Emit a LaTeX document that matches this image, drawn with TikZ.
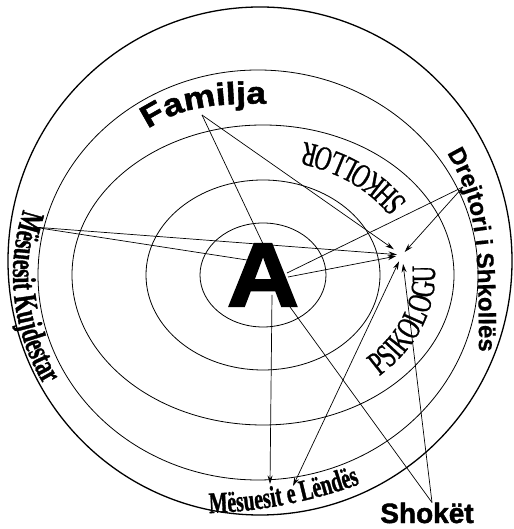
\documentclass[tikz,border=0pt]{standalone}
\usepackage{fontspec}
\usetikzlibrary{arrows.meta,calc,decorations.text}
\newfontfamily\serifc[FakeStretch=0.67,FakeBold=0.8]{Liberation Serif}
\newfontfamily\serifcb[FakeStretch=0.66,FakeBold=1]{Liberation Serif Bold}
\newfontfamily\famfont[FakeStretch=1.15,FakeBold=1.8]{Liberation Sans Bold}
\newfontfamily\heavysans[FakeBold=1.5]{Liberation Sans Bold}
\newfontfamily\boldsans[FakeBold=0.6]{Liberation Sans Bold}
\newfontfamily\bigAfont[FakeStretch=1.1,FakeBold=2.5]{Liberation Sans Bold}
\tikzset{
  ring/.style={line width=0.8pt},
  outerring/.style={line width=1.3pt},
  ln/.style={line width=0.7pt},
  arr/.style={ln,-{Stealth[length=8.5pt,width=5pt]}},
  dbl/.style={ln,{Stealth[length=8.5pt,width=5pt]}-{Stealth[length=8.5pt,width=5pt]}},
  curvetext/.style={decorate,decoration={text along path,text align=center,text={#1}}},
  lefttext/.style={decorate,decoration={text along path,text={#1}}}
}
\begin{document}
\begin{tikzpicture}[x=1pt,y=1pt]
\path[use as bounding box] (0,0) rectangle (513,529);
\coordinate (C) at (263,254);
% rings
\draw[outerring] (260,268) ellipse [x radius=252, y radius=254];
\draw[ring] (258,254) ellipse [x radius=220, y radius=205];
\draw[ring] (C) ellipse [x radius=191, y radius=150];
\draw[ring] (C) ellipse [x radius=117, y radius=95];
\draw[ring] (C) ellipse [x radius=63, y radius=52];
% curved labels
\path[curvetext={|\serifc\fontsize{34}{34}\selectfont|SHKOLLOR}]
  ($(C)+(18:170 and 137)$) arc[start angle=18,end angle=88,x radius=170,y radius=137];
\path[curvetext={|\serifc\fontsize{34}{34}\selectfont|PSIKOLOGU}]
  ($(C)+(-58:172 and 137)$) arc[start angle=-58,end angle=16,x radius=172,y radius=137];
\path[curvetext={|\serifcb\fontsize{33}{33}\selectfont|Mësuesit Kujdestar}]
  ($(C)+(154:250 and 228)$) arc[start angle=154,end angle=218,x radius=250,y radius=228];
\path[curvetext={|\serifcb\fontsize{30}{30}\selectfont|Mësuesit e Lëndës}]
  (190,16) .. controls (250,14) and (320,28) .. (378,52);
\path[lefttext={|\famfont\fontsize{31}{31}\selectfont|Familja}]
  (148,400) .. controls (183,424) and (225,428) .. (300,424);
\path[lefttext={|\boldsans\fontsize{24}{24}\selectfont|Drejtori i Shkollës}]
  (447,376) .. controls (478,322) and (479,290) .. (479,140);
% nodes
\node[font=\bigAfont\fontsize{90}{90}\selectfont, inner sep=0pt] (A) at (C) {A};
\node[font=\heavysans\fontsize{28}{28}\selectfont, inner sep=0pt] (Sh) at (427,16) {Shokët};
% connector ends
\coordinate (fam) at (202,414);
\coordinate (kuj) at (33,302);
\coordinate (dre) at (463,342);
\coordinate (psi) at (402,274);
\coordinate (len1) at (293,43);
\coordinate (len2) at (270,45);
\coordinate (shk) at ($(Sh.north)+(5,0)$);
% connectors
\draw[ln] (fam) -- (A.north);
\draw[arr, shorten >=10pt] (fam) -- (psi);
\draw[ln] (kuj) -- ($(A.center)+(-16,15)$);
\draw[arr, shorten >=5pt] (kuj) -- (psi);
\draw[ln] (dre) -- ($(A.center)+(24,2)$);
\draw[arr, shorten >=4pt] (dre) -- (psi);
\draw[arr, shorten >=6pt] ($(A.center)+(25,-2)$) -- (psi);
\draw[arr] ($(A.center)+(9,-20)$) -- (len2);
\draw[dbl, shorten >=7pt] (len1) -- (psi);
\draw[ln] ($(A.center)+(27,-32)$) -- (shk);
\draw[arr, shorten >=9pt] (shk) -- (psi);
\end{tikzpicture}
\end{document}
